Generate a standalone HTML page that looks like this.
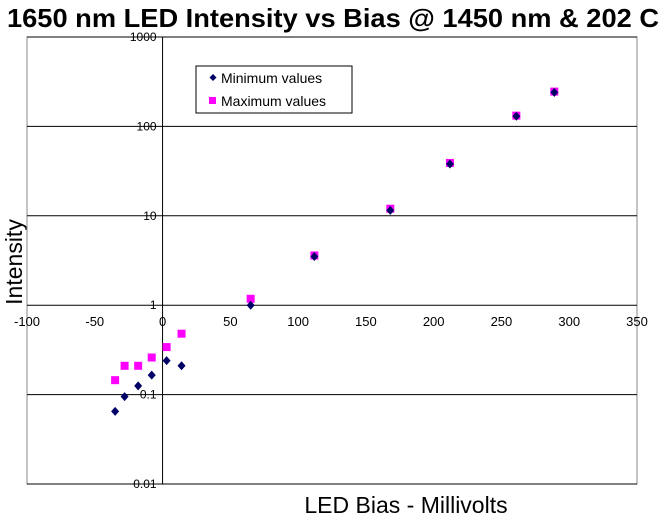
<!DOCTYPE html>
<html><head><meta charset="utf-8"><style>
body{margin:0;background:#fff;}
svg text{font-family:"Liberation Sans",Arial,sans-serif;}
</style></head><body>
<svg id="chart" width="665" height="520" xmlns="http://www.w3.org/2000/svg">
<text x="333" y="27" text-anchor="middle" font-size="26" font-weight="bold" textLength="652" lengthAdjust="spacingAndGlyphs">1650 nm LED Intensity vs Bias @ 1450 nm &amp; 202 C</text>
<text transform="translate(22,262) rotate(-90)" text-anchor="middle" font-size="23">Intensity</text>
<text x="406" y="513" text-anchor="middle" font-size="23">LED Bias - Millivolts</text>
<g id="grid"></g><g id="marks"></g>
<g>
<rect x="196" y="66" width="156" height="47" fill="#fff" stroke="#000" stroke-width="1"/>
<path d="M213 74 L216.5 77.5 L213 81 L209.5 77.5Z" fill="#000066"/>
<text x="221" y="83" font-size="14">Minimum values</text>
<rect x="209" y="97" width="7" height="7" fill="#ff00ff"/>
<text x="221" y="106" font-size="14">Maximum values</text>
</g>
</svg>
<script>
const xTicks=[-100,-50,0,50,100,150,200,250,300,350];
const yTicks=[0.01,0.1,1,10,100,1000];
const yTickLabels=["0.01","0.1","1","10","100","1000"];
const minX=[-35,-28,-18,-8,3,14,65,112,168,212,261,289];
const minY=[0.065,0.095,0.125,0.165,0.24,0.21,1.0,3.5,11.5,38,130,240];
const maxX=[-35,-28,-18,-8,3,14,65,112,168,212,261,289];
const maxY=[0.145,0.21,0.21,0.26,0.34,0.48,1.18,3.6,12,39,132,245];
const L=27,R=637,T=37,B=484;
const xs=v=>L+(v+100)/450*(R-L);
const ys=v=>B-(Math.log10(v)+2)/5*(B-T);
const NS="http://www.w3.org/2000/svg";
const grid=document.getElementById('grid'),marks=document.getElementById('marks');
function mk(tag,attrs,parent,txt){const e=document.createElementNS(NS,tag);for(const k in attrs)e.setAttribute(k,attrs[k]);if(txt!==undefined)e.textContent=txt;parent.appendChild(e);return e;}
const box=mk('rect',{x:L,y:T,width:R-L,height:B-T,fill:'none',stroke:'#888','stroke-width':1},grid);


yTicks.forEach((v,i)=>{
 const y=ys(v);
 const l=mk('line',{x1:L,x2:R,y1:y,y2:y,stroke:'#000','stroke-width':1},grid);
 
 
 const t=mk('text',{x:xs(0)-6,y:y+4,'text-anchor':'end','font-size':12},grid,yTickLabels[i]);
 
 
});
const ax=mk('line',{x1:xs(0),x2:xs(0),y1:T,y2:B,stroke:'#000','stroke-width':1},grid);


xTicks.forEach(v=>{
 const t=mk('text',{x:xs(v),y:ys(1)+21,'text-anchor':'middle','font-size':13},grid,String(v));
 
 
});
maxX.forEach((x,i)=>{
 const cx=xs(x),cy=ys(maxY[i]);
 const r=mk('rect',{x:cx-4,y:cy-4,width:8,height:8,fill:'#ff00ff'},marks);
 
 
});
minX.forEach((x,i)=>{
 const cx=xs(x),cy=ys(minY[i]);
 const p=mk('path',{d:`M${cx} ${cy-4.5}L${cx+4} ${cy}L${cx} ${cy+4.5}L${cx-4} ${cy}Z`,fill:'#000066'},marks);
 
 
});
</script>
</body></html>
